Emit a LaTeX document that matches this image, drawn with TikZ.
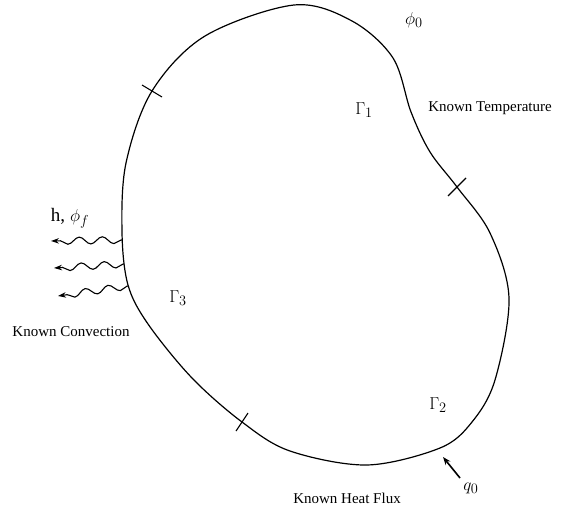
\documentclass[tikz,border=0pt]{standalone}
\usepackage{fontspec}
\setmainfont{Liberation Serif}
\usepackage{tikz}
\usetikzlibrary{arrows.meta,calc,decorations.pathmorphing}
\tikzset{
    >=Stealth,
    lbl/.style={font=\fontsize{15}{18}\selectfont, inner sep=0pt},
    sym/.style={font=\fontsize{19}{22}\selectfont, inner sep=0pt},
    boundary/.style={line width=1.2pt, smooth cycle, tension=0.55},
    tick/.style={line width=1.1pt},
    wavy/.style={
        line width=1.1pt,
        decorate,
        decoration={snake, amplitude=3.5pt, segment length=23pt,
                    pre length=1pt, post length=6pt},
        -{Stealth[length=8pt, width=5.5pt]}
    },
    flux/.style={line width=1.6pt, -{Stealth[length=8pt, width=6pt]}}
}

\begin{document}
\begin{tikzpicture}[x=1pt, y=-1pt]

\useasboundingbox (0,0) rectangle (569,508);

\draw[boundary] plot coordinates {
    (294,5) (352,21) (393,58) (411,112) (430,152) (457,187)
    (490,233) (509,298) (495,380) (472,422) (440,448) (367,465)
    (290,451) (242,422) (192,378) (148,324) (128,285)
    (122,232) (126,163) (152,91) (205,36)
};

\coordinate (t1) at (152,91);
\coordinate (t2) at (457,187);
\coordinate (t3) at (242,422);

\draw[tick] ($(t1)+(-10,-6)$) -- ($(t1)+(10,6)$);
\draw[tick] ($(t2)+(-9,9)$) -- ($(t2)+(9,-9)$);
\draw[tick] ($(t3)+(-6,9)$) -- ($(t3)+(6,-9)$);

\node[sym] (phi0) at (414,20) {$\phi_0$};
\node[sym] (g1) at (364,110) {$\Gamma_1$};
\node[lbl] (temp) at (490,108) {Known Temperature};

\node[sym] (g2) at (438,405) {$\Gamma_2$};
\node[sym] (q0) at (471,488) {$q_0$};
\node[lbl] (hflux) at (347,498) {Known Heat Flux};

\node[sym] (g3) at (178,298) {$\Gamma_3$};
\node[lbl] (conv) at (71,332) {Known Convection};
\node[sym] (hphi) at (70,218) {h,\ $\phi_f$};

\coordinate (c1) at (122,240);
\coordinate (c2) at (124,264);
\coordinate (c3) at (128,286);
\coordinate (e1) at (51,241);
\coordinate (e2) at (54,268);
\coordinate (e3) at (58,296);

\draw[wavy] (c1) -- (e1);
\draw[wavy] (c2) -- (e2);
\draw[wavy] (c3) -- (e3);

\coordinate (qtail) at (460,478);
\coordinate (qtip) at (443,457);
\draw[flux] (qtail) -- (qtip);

\end{tikzpicture}
\end{document}
